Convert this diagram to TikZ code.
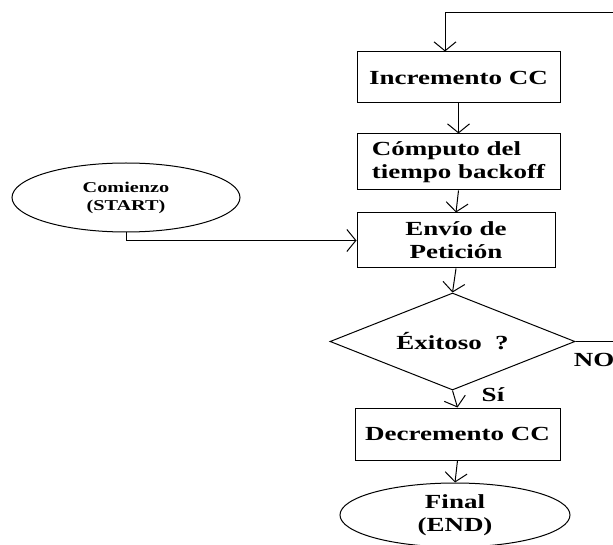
\documentclass[tikz,border=0pt]{standalone}
\usepackage{fontspec}
\setmainfont{Liberation Serif}[FakeStretch=1.35]
\usetikzlibrary{arrows.meta,shapes.geometric}

\begin{document}
\begin{tikzpicture}[x=1pt,y=-1pt,>={Straight Barb[length=9pt,width=22pt]},line width=1pt,
 font=\fontsize{20}{23}\selectfont\bfseries,
 stepbox/.style={draw,inner sep=0pt,align=center},
 term/.style={draw,ellipse,inner sep=0pt,align=center}]
\useasboundingbox (0,0) rectangle (613,545);
\clip (0,0) rectangle (613,545);
\node[term,minimum width=228pt,minimum height=69pt,font=\fontsize{15}{18}\selectfont\bfseries] (start) at (126,197.5) {Comienzo\\(START)};
\node[stepbox,minimum width=203pt,minimum height=51pt] (inc) at (458.5,77.5) {Incremento CC};
\node[stepbox,minimum width=203pt,minimum height=56pt,align=left] (comp) at (458.5,162) {Cómputo del\\tiempo backoff};
\node[stepbox,minimum width=198pt,minimum height=55pt] (env) at (456,240.5) {Envío de\\Petición};
\node[draw,diamond,aspect=2.5,inner sep=0pt,minimum width=245pt,minimum height=97pt] (ok) at (452.5,341.5) {Éxitoso ~?};
\node[stepbox,minimum width=205pt,minimum height=52pt] (dec) at (457.5,434) {Decremento CC};
\node[term,minimum width=230pt,minimum height=64pt] (end) at (455,515) {Final\\(END)};
\node (no) at (594,360) {NO};
\node (si) at (493,395) {Sí};
\coordinate (top) at (445,13);
\coordinate (back) at (640,13);
\draw[->] (inc.south) -- (comp.north);
\draw[->] (comp.south) -- (env.north);
\draw[->] (env.south) -- (ok.north);
\draw[->] (ok.south) -- (dec.north);
\draw[->] (dec.south) -- (end.north);
\draw[->] (start.south) |- (env.west);
\draw[->] (ok.east) -| (back) -- (top) -- (top |- inc.north);
\end{tikzpicture}
\end{document}
